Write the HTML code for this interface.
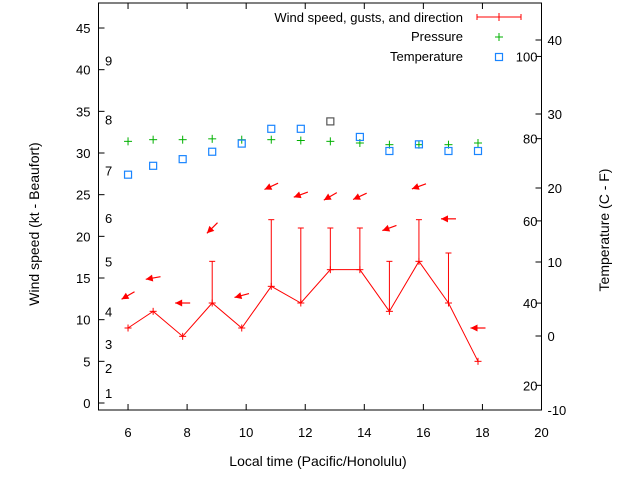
<!DOCTYPE html>
<html><head><meta charset="utf-8"><style>
body{margin:0;background:#fff}
svg{display:block;font-family:"Liberation Sans",sans-serif}
</style></head><body>
<svg id="c" width="640" height="480" viewBox="0 0 640 480" xmlns="http://www.w3.org/2000/svg"></svg>
<script>
const times=[6.0,6.85,7.85,8.85,9.85,10.85,11.85,12.85,13.85,14.85,15.85,16.85,17.85];
const wind=[9,11,8,12,9,14,12,16,16,11,17,12,5];
const gusts=[null,null,null,17,null,22,21,21,21,17,22,18,null];
const dirDeg=[60,80,90,45,75,65,70,60,65,70,70,90,90];
const arrowY=[12.9,15.0,12.0,21.0,12.9,26.0,25.0,24.8,24.8,21.0,26.0,22.1,9.0];
const pressure=[31.4,31.6,31.6,31.7,31.6,31.6,31.5,31.4,31.2,31.0,31.0,31.0,31.2];
const temp=[21.8,23.0,23.9,24.9,26.0,28.0,28.0,29.0,26.9,25.0,25.9,25.0,25.0];
const xTicks=[6,8,10,12,14,16,18,20];
const yTicks=[0,5,10,15,20,25,30,35,40,45];
const cTicks=[-10,0,10,20,30,40];
const fTicks=[20,40,60,80,100];
const beaufortLabels=[[1,1.2],[2,4.2],[3,7.1],[4,11],[5,17],[6,22.2],[7,27.9],[8,34],[9,41.1]];

const L=98.5,R=541.5,T=3,B=410;
const X=v=>L+(v-5)*(R-L)/15;
const Y=v=>403-v*8.333;
const YC=v=>336-v*7.4;
const svg=document.getElementById('c');
const NS='http://www.w3.org/2000/svg';
function mk(tag,attrs,parent){const e=document.createElementNS(NS,tag);for(const k in attrs)e.setAttribute(k,attrs[k]);(parent||svg).appendChild(e);return e;}
function txt(x,y,s,anchor,size){const t=mk('text',{x:x,y:y,'font-size':size||13,'text-anchor':anchor||'start',fill:'#000'});t.textContent=s;return t;}

const fr=mk('rect',{x:L,y:T,width:R-L,height:B-T,fill:'none',stroke:'#000','stroke-width':1});



xTicks.forEach(v=>{
  const x=X(v);
  mk('line',{x1:x,y1:B,x2:x,y2:B-6,stroke:'#000'});
  mk('line',{x1:x,y1:T,x2:x,y2:T+6,stroke:'#000'});
  const t=txt(x,B+27,String(v),'middle');
  
  
});
yTicks.forEach(v=>{
  const y=Y(v);
  mk('line',{x1:L,y1:y,x2:L+6,y2:y,stroke:'#000'});
  const t=txt(L-8,y+5,String(v),'end');
  
  
});
cTicks.forEach(v=>{
  const y=YC(v);
  mk('line',{x1:R,y1:y,x2:R-6,y2:y,stroke:'#000'});
  const t=txt(R+6,y+5,String(v),'start');
  
  
});
fTicks.forEach(v=>{
  const y=YC((v-32)*5/9);
  mk('line',{x1:R,y1:y,x2:R-6,y2:y,stroke:'#000'});
  const t=txt(R-4,y+5,String(v),'end');
  
  
});
beaufortLabels.forEach(b=>{
  const t=txt(105,Y(b[1])+5,String(b[0]),'start');
  
  
});

let t=txt(318,466,'Local time (Pacific/Honolulu)','middle',14);


t=mk('text',{x:0,y:0,'font-size':14,'text-anchor':'middle',transform:'translate(39,224) rotate(-90)'});
t.textContent='Wind speed (kt - Beaufort)';


t=mk('text',{x:0,y:0,'font-size':14,'text-anchor':'middle',transform:'translate(609,230) rotate(-90)'});
t.textContent='Temperature (C - F)';



const red='#ff0000';
const pts=times.map((v,i)=>X(v)+','+Y(wind[i])).join(' ');
const pl=mk('polyline',{points:pts,fill:'none',stroke:red,'stroke-width':1});


times.forEach((v,i)=>{
  const x=X(v),y=Y(wind[i]);
  const g=mk('g',{});
  
  
  mk('line',{x1:x-3.5,y1:y,x2:x+3.5,y2:y,stroke:red},g);
  mk('line',{x1:x,y1:y-3.5,x2:x,y2:y+3.5,stroke:red},g);
  if(gusts[i]!=null){
    const gy=Y(gusts[i]);
    mk('line',{x1:x,y1:y,x2:x,y2:gy,stroke:red},g);
    mk('line',{x1:x-3,y1:gy,x2:x+3,y2:gy,stroke:red},g);
  }
  const a=dirDeg[i]*Math.PI/180;
  const dx=-Math.sin(a),dy=Math.cos(a);
  const cx=x,cy=Y(arrowY[i]),len=15;
  const hx=cx+dx*len/2,hy=cy+dy*len/2,tx=cx-dx*len/2,ty=cy-dy*len/2;
  const ag=mk('g',{});
  
  
  mk('line',{x1:tx,y1:ty,x2:hx,y2:hy,stroke:red,'stroke-width':1.2},ag);
  const px=-dy,py=dx,hl=7,hw=3.5;
  const bx=hx-dx*hl,by=hy-dy*hl;
  mk('polygon',{points:`${hx},${hy} ${bx+px*hw},${by+py*hw} ${bx-px*hw},${by-py*hw}`,fill:red},ag);
});
pressure.forEach((p,i)=>{
  const x=X(times[i]),y=Y(p);
  const g=mk('g',{});
  
  
  mk('line',{x1:x-4,y1:y,x2:x+4,y2:y,stroke:'#00b000'},g);
  mk('line',{x1:x,y1:y-4,x2:x,y2:y+4,stroke:'#00b000'},g);
});
temp.forEach((c,i)=>{
  const x=X(times[i]),y=YC(c);
  const r=mk('rect',{x:x-3.5,y:y-3.5,width:7,height:7,fill:'none',stroke:i===7?'#555':'#1a85ff','stroke-width':1.2});
  
  
});

const lg=mk('g',{});


let e=txt(463,22,'Wind speed, gusts, and direction','end');
mk('line',{x1:477,y1:17,x2:521,y2:17,stroke:red},lg);
mk('line',{x1:477,y1:14,x2:477,y2:20,stroke:red},lg);
mk('line',{x1:521,y1:14,x2:521,y2:20,stroke:red},lg);
mk('line',{x1:499,y1:13,x2:499,y2:21,stroke:red},lg);
e=txt(463,41,'Pressure','end');
mk('line',{x1:495,y1:37,x2:503,y2:37,stroke:'#00b000'},lg);
mk('line',{x1:499,y1:33,x2:499,y2:41,stroke:'#00b000'},lg);
e=txt(463,61,'Temperature','end');
mk('rect',{x:495.5,y:53.5,width:7,height:7,fill:'none',stroke:'#1a85ff','stroke-width':1.2},lg);
</script>
</body></html>
